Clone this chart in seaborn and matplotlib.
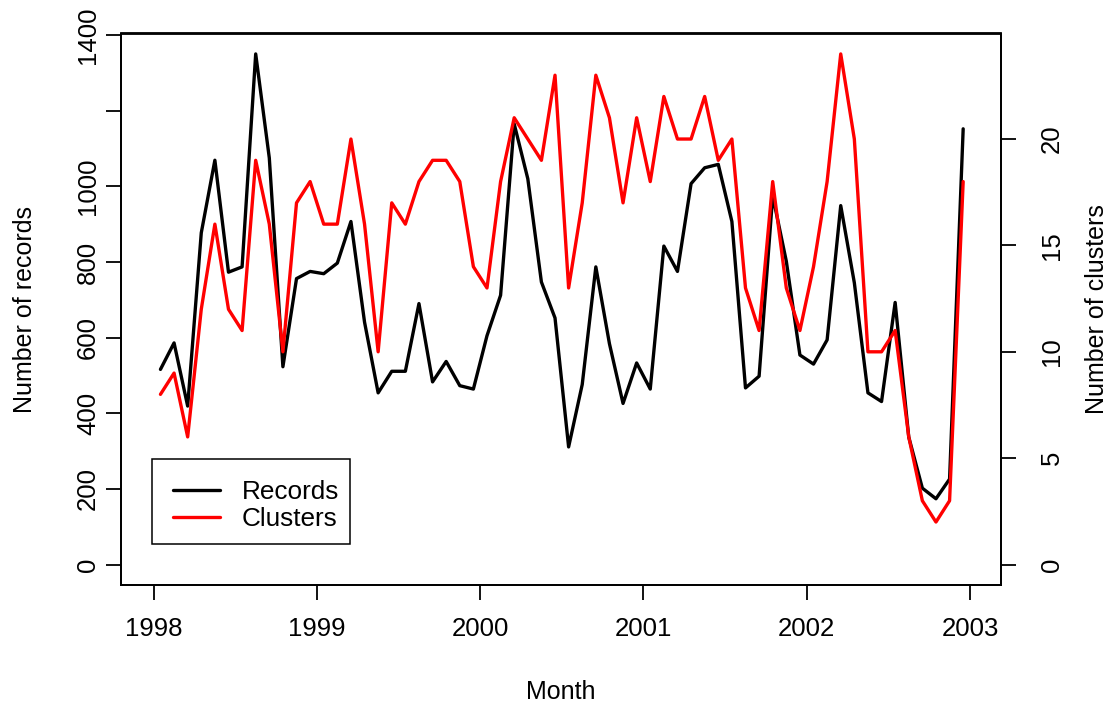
import numpy as np
import pandas as pd
import matplotlib
matplotlib.use("Agg")
import matplotlib.pyplot as plt
from matplotlib.patches import Rectangle
import seaborn as sns

# ---- data -------------------------------------------------------------
start_year = 1998
records = [516, 586, 419, 877, 1069, 773, 787, 1350, 1075, 523,
           756, 775, 769, 797, 907, 641, 454, 511, 511, 690,
           483, 537, 473, 464, 605, 712, 1165, 1020, 747, 652,
           311, 476, 787, 584, 426, 533, 464, 842, 775, 1007,
           1049, 1058, 907, 467, 498, 975, 802, 554, 530, 594,
           949, 745, 454, 431, 693, 337, 202, 174, 226, 1152]
clusters = [8, 9, 6, 12, 16, 12, 11, 19, 16, 10,
            17, 18, 16, 16, 20, 16, 10, 17, 16, 18,
            19, 19, 18, 14, 13, 18, 21, 20, 19, 23,
            13, 17, 23, 21, 17, 21, 18, 22, 20, 20,
            22, 19, 20, 13, 11, 18, 13, 11, 14, 18,
            24, 20, 10, 10, 11, 6, 3, 2, 3, 18]
left_ticks = [0, 200, 400, 600, 800, 1000, 1200, 1400]
left_tick_labels = ["0", "200", "400", "600", "800", "1000", "", "1400"]
right_ticks = [0, 5, 10, 15, 20]
year_ticks = [1998, 1999, 2000, 2001, 2002, 2003]
series_names = ["Records", "Clusters"]

month_index = np.arange(len(records))
time = start_year + (month_index + 0.5) / 12.0
df = pd.DataFrame({"Month": time, "Records": records, "Clusters": clusters})

# ---- style ------------------------------------------------------------
sns.set_theme(style="ticks")
plt.rcParams['font.family'] = ['Liberation Sans', 'DejaVu Sans']
plt.rcParams['axes.edgecolor'] = 'black'
plt.rcParams['axes.linewidth'] = 1.3
plt.rcParams['xtick.color'] = 'black'
plt.rcParams['ytick.color'] = 'black'
plt.rcParams['text.color'] = 'black'
plt.rcParams['axes.labelcolor'] = 'black'

W, H = 1114, 704
AX_L, AX_R, AX_T, AX_B = 121, 1001, 33.5, 585
AW, AH = AX_R - AX_L, AX_B - AX_T
fig = plt.figure(figsize=(W / 100, H / 100), dpi=100)
fig.patch.set_facecolor('white')
ax = fig.add_axes([AX_L / W, (H - AX_B) / H, AW / W, AH / H])
ax2 = ax.twinx()

sns.lineplot(data=df, x="Month", y="Records", ax=ax, color="black",
             linewidth=2.4, legend=False)
sns.lineplot(data=df, x="Month", y="Clusters", ax=ax2, color="red",
             linewidth=2.4, legend=False)

ax.set_xlim(1997.80, 2003.19)
ax.set_ylim(-54, 1404)
ax2.set_ylim(-0.96, 24.96)

fs = 18
fs_t = 18.5
ax.set_xticks(year_ticks)
ax.set_xticklabels([str(y) for y in year_ticks], fontsize=fs_t)
ax.set_yticks(left_ticks)
ax.set_yticklabels(left_tick_labels, fontsize=fs_t, rotation=90, va='center')
ax2.set_yticks(right_ticks)
ax2.set_yticklabels([str(t) for t in right_ticks], fontsize=fs_t, rotation=90, va='center')

ax.tick_params(axis='x', direction='out', length=11, width=1.3, pad=12)
ax.tick_params(axis='y', direction='out', length=11, width=1.3, pad=4)
ax2.tick_params(axis='y', direction='out', length=11, width=1.3, pad=17)

for a in (ax, ax2):
    for s in a.spines.values():
        s.set_visible(True)
        s.set_color('black')
        s.set_linewidth(1.3)

ax.set_xlabel("Month", fontsize=fs)
ax.set_ylabel("Number of records", fontsize=fs)
ax2.set_ylabel("Number of clusters", fontsize=fs, rotation=90)
ax.xaxis.set_label_coords(0.5, -0.172)
ax.yaxis.set_label_coords((25 - AX_L) / AW, 0.5)
ax.yaxis.label.set_va('center')
ax2.yaxis.set_label_coords((1097 - AX_L) / AW, 0.5)
ax2.yaxis.label.set_va('center')

# legend box (R style) drawn as a plain rectangle, entries via legend
box = Rectangle(((152 - AX_L) / AW, (AX_B - 544) / AH), 198 / AW, 85 / AH,
                transform=ax2.transAxes, fill=True, facecolor='white',
                edgecolor='black', linewidth=1.1, zorder=5)
ax2.add_patch(box)
handles = [ax.get_lines()[0], ax2.get_lines()[0]]
leg = ax2.legend(handles, series_names, loc='upper left',
                 bbox_to_anchor=((173 - AX_L) / AW, (AX_B - 480) / AH),
                 fontsize=18.8, frameon=False, borderaxespad=0, borderpad=0,
                 labelspacing=0.12, handlelength=1.8, handletextpad=0.82)
leg.set_zorder(6)

fig.savefig("out.png", dpi=100, facecolor='white')
